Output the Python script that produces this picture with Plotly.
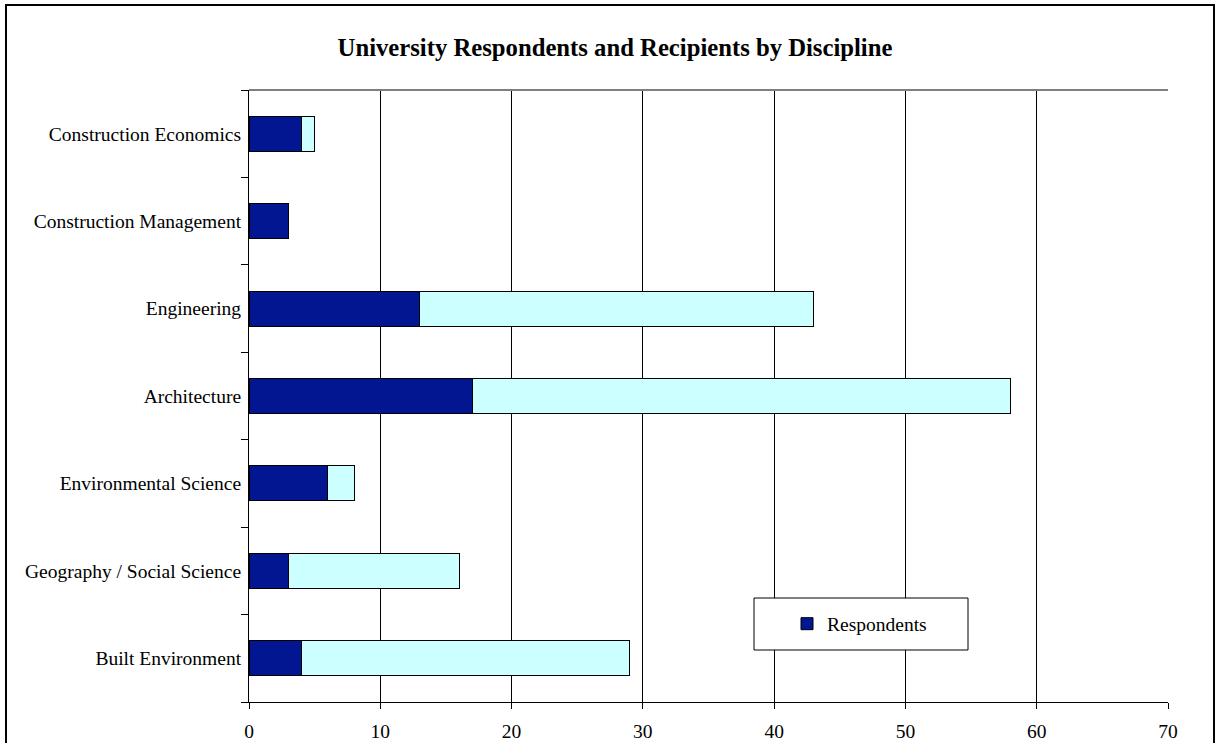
import plotly.graph_objects as go

categories = [
    "Built Environment",
    "Geography / Social Science",
    "Environmental Science",
    "Architecture",
    "Engineering",
    "Construction Management",
    "Construction Economics",
]
respondents = [4, 3, 6, 17, 13, 3, 4]
recipients_extra = [25, 13, 2, 41, 30, 0, 1]
x_ticks = [0, 10, 20, 30, 40, 50, 60, 70]

FONT = "Liberation Serif, Times New Roman, serif"
W, H = 1218, 743
L, R, T, B = 249, 50, 90, 41
pw, ph = W - L - R, H - T - B

def px_x(p):
    return (p - L) / pw

def px_y(p):
    return (H - B - p) / ph

fig = go.Figure()
fig.add_trace(go.Bar(
    y=categories, x=respondents, orientation="h", name="Respondents",
    marker=dict(color="#021691", line=dict(color="#000000", width=1)),
    showlegend=True,
))
fig.add_trace(go.Bar(
    y=categories, x=recipients_extra, orientation="h", name="Recipients",
    marker=dict(color="#CCFFFF", line=dict(color="#000000", width=1)),
    showlegend=False,
))

fig.update_layout(
    width=W, height=H,
    barmode="stack", bargap=0.6,
    paper_bgcolor="white", plot_bgcolor="white",
    margin=dict(l=L, r=R, t=T, b=B, autoexpand=False),
    font=dict(family=FONT, size=19.5, color="#000000"),
    title=dict(
        text="<b>University Respondents and Recipients by Discipline</b>",
        x=px_x(615), xref="paper", xanchor="center",
        y=1 - 47 / H, yanchor="middle", automargin=False,
        font=dict(family=FONT, size=24.7, color="#000000"),
    ),
    xaxis=dict(
        range=[0, 70], tickvals=x_ticks, ticktext=[str(v) for v in x_ticks],
        showgrid=True, gridcolor="#000000", gridwidth=1,
        showline=True, linecolor="#000000", linewidth=1,
        ticks="outside", ticklen=6, tickcolor="#000000",
        ticklabelstandoff=6, automargin=False,
        zeroline=False, fixedrange=True,
        tickfont=dict(family=FONT, size=19.5),
    ),
    yaxis=dict(
        type="category", categoryorder="array", categoryarray=categories,
        showgrid=False, showline=True, linecolor="#000000", linewidth=1,
        ticks="outside", tickson="boundaries", ticklen=7, tickcolor="#000000",
        ticklabelstandoff=3, automargin=False,
        tickfont=dict(family=FONT, size=19.5),
        fixedrange=True,
    ),
    legend=dict(
        x=px_x(787), y=px_y(624), xanchor="left", yanchor="middle",
        bgcolor="rgba(0,0,0,0)", borderwidth=0,
        font=dict(family=FONT, size=19.5),
        itemwidth=30,
    ),
    shapes=[
        # outer chart border
        dict(type="rect", xref="paper", yref="paper",
             x0=px_x(6), x1=px_x(1214), y0=px_y(760), y1=px_y(5),
             line=dict(color="#000000", width=2), fillcolor="rgba(0,0,0,0)", layer="below"),
        # top plot edge (gray)
        dict(type="line", xref="paper", yref="paper",
             x0=0, x1=1, y0=1, y1=1, line=dict(color="#808080", width=2)),
        # legend box
        dict(type="rect", xref="paper", yref="paper",
             x0=px_x(754), x1=px_x(968), y0=px_y(650), y1=px_y(598),
             line=dict(color="#000000", width=1), fillcolor="white", layer="above"),
    ],
)

fig.write_html(
    "out.html",
    config={"displayModeBar": False},
    post_script="document.body.style.margin='0';document.body.style.overflow='hidden';",
)
